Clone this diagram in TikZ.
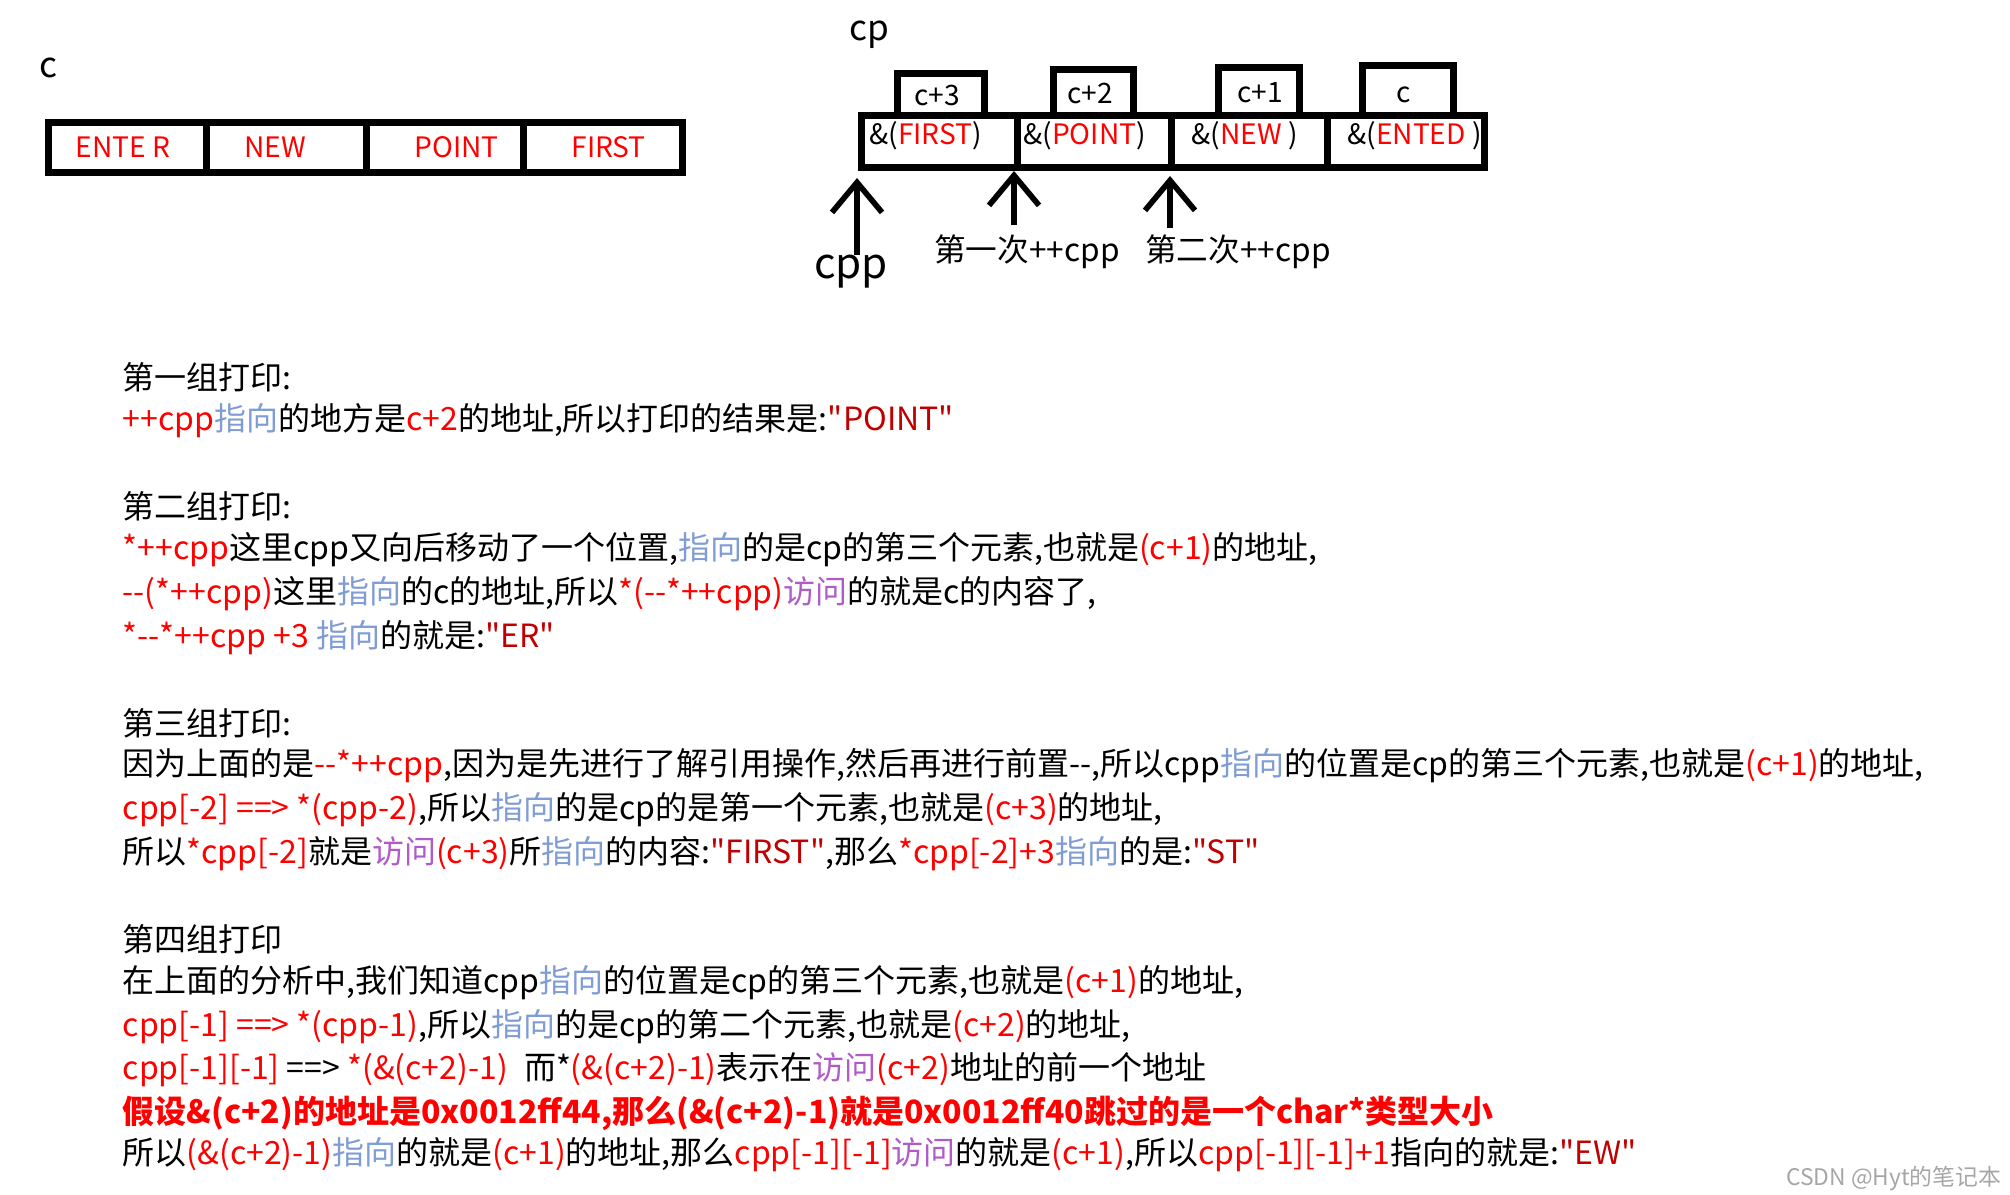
\documentclass[tikz,border=0pt]{standalone}
\usepackage{fontspec}
\setmainfont{Noto Sans CJK SC}[Ligatures=TeXOff]
\usetikzlibrary{arrows.meta}
\definecolor{zblue}{HTML}{7F9CD4}
\definecolor{zpur}{HTML}{B05CC8}
\definecolor{zdred}{HTML}{C00000}
\newcommand\cred[1]{\textcolor{red}{#1}}
\newcommand\cblu[1]{\textcolor{zblue}{#1}}
\newcommand\cpur[1]{\textcolor{zpur}{#1}}
\tikzset{
 cell/.style={draw,line width=2pt,minimum height=0.5cm,inner sep=0pt,font=\fontsize{8}{9}\selectfont},
 lab/.style={font=\fontsize{10}{12}\selectfont,inner sep=0pt},
 txt/.style={anchor=west,inner sep=0pt,font=\fontsize{9.1}{11}\selectfont},
 ptr/.style={line width=1.6pt,-{Straight Barb[length=3mm,width=5mm,line width=1.6pt]}}
}
\begin{document}
\begin{tikzpicture}[x=0.01cm,y=-0.01cm]
\useasboundingbox (0,0) rectangle (2010,1194);
% c array
\node[lab] (clab) at (48,68) {c};
\foreach \a/\b/\n in {45/203/e1,203/363/e2,363/520/e3,520/679/e4}{
  \node[cell,minimum width={(\b-\a)*0.01cm},minimum height=0.5cm,anchor=north west] (\n) at (\a,119) {};
}
\node[cell,draw=none,text=red,anchor=west] at (72,147) {ENTE R};
\node[cell,draw=none,text=red,anchor=west] at (241,147) {NEW};
\node[cell,draw=none,text=red,anchor=west] at (411,147) {POINT};
\node[cell,draw=none,text=red,anchor=west] at (568,147) {FIRST};
% cp
\node[lab] (cplab) at (869,35) {cp};
\node[cell,anchor=north west,minimum width=0.87cm,minimum height=0.42cm] (u1) at (894,70) {};
\node[cell,anchor=north west,minimum width=0.80cm,minimum height=0.46cm] (u2) at (1050,66) {};
\node[cell,anchor=north west,minimum width=0.81cm,minimum height=0.48cm] (u3) at (1215,64) {};
\node[cell,anchor=north west,minimum width=0.91cm,minimum height=0.50cm] (u4) at (1359,62) {};
\node[cell,draw=none] at (937,95) {c+3};
\node[cell,draw=none] at (1090,93) {c+2};
\node[cell,draw=none] at (1260,93) {c+1};
\node[cell,draw=none] at (1404,95) {c};
\node[cell,anchor=north west,minimum width=1.56cm,minimum height=0.52cm] (b1) at (858,112) {};
\node[cell,anchor=north west,minimum width=1.54cm,minimum height=0.52cm] (b2) at (1014,112) {};
\node[cell,anchor=north west,minimum width=1.56cm,minimum height=0.52cm] (b3) at (1168,112) {};
\node[cell,anchor=north west,minimum width=1.57cm,minimum height=0.52cm] (b4) at (1324,112) {};
\node[cell,draw=none,anchor=west] at (866,136) {\&(\cred{FIRST})};
\node[cell,draw=none,anchor=west] at (1020,136) {\&(\cred{POINT})};
\node[cell,draw=none,anchor=west] at (1188,136) {\&(\cred{NEW} )};
\node[cell,draw=none,anchor=west] at (1344,136) {\&(\cred{ENTED} )};
% pointers
\node[lab,font=\fontsize{12}{14}\selectfont] (cpp) at (851,272) {cpp};
\coordinate (p1) at (857,178);
\draw[ptr] (cpp.north -| p1) -- (p1);
\node[lab,font=\fontsize{9}{11}\selectfont] (f1) at (1027,252) {第一次++cpp};
\coordinate (p2) at (1014,171);
\draw[ptr] (1014,225) -- (p2);
\node[lab,font=\fontsize{9}{11}\selectfont] (f2) at (1238,252) {第二次++cpp};
\coordinate (p3) at (1170,176);
\draw[ptr] (1170,228) -- (p3);
% text
\node[txt] (t1) at (122,377) {第一组打印:};
\node[txt] (t2) at (122,421) {\cred{++cpp}\cblu{指向}的地方是\cred{c+2}的地址,所以打印的结果是:\textcolor{zdred}{"POINT"}};
\node[txt] (t3) at (122,506) {第二组打印:};
\node[txt] (t4) at (122,550) {\cred{*++cpp}这里cpp又向后移动了一个位置,\cblu{指向}的是cp的第三个元素,也就是\cred{(c+1)}的地址,};
\node[txt] (t5) at (122,594) {\cred{--(*++cpp)}这里\cblu{指向}的c的地址,所以\cred{*(--*++cpp)}\cpur{访问}的就是c的内容了,};
\node[txt] (t6) at (122,638) {\cred{*--*++cpp +3} \cblu{指向}的就是:\textcolor{zdred}{"ER"}};
\node[txt] (t7) at (122,723) {第三组打印:};
\node[txt] (t8) at (122,766) {因为上面的是\cred{--*++cpp},因为是先进行了解引用操作,然后再进行前置--,所以cpp\cblu{指向}的位置是cp的第三个元素,也就是\cred{(c+1)}的地址,};
\node[txt] (t9) at (122,810) {\cred{cpp[-2] ==> *(cpp-2)},所以\cblu{指向}的是cp的是第一个元素,也就是\cred{(c+3)}的地址,};
\node[txt] (t10) at (122,854) {所以\cred{*cpp[-2]}就是\cpur{访问}\cred{(c+3)}所\cblu{指向}的内容:\textcolor{zdred}{"FIRST"},那么\cred{*cpp[-2]+3}\cblu{指向}的是:\textcolor{zdred}{"ST"}};
\node[txt] (t11) at (122,939) {第四组打印};
\node[txt] (t12) at (122,983) {在上面的分析中,我们知道cpp\cblu{指向}的位置是cp的第三个元素,也就是\cred{(c+1)}的地址,};
\node[txt] (t13) at (122,1027) {\cred{cpp[-1] ==> *(cpp-1)},所以\cblu{指向}的是cp的第二个元素,也就是\cred{(c+2)}的地址,};
\node[txt] (t14) at (122,1070) {\cred{cpp[-1][-1]} ==> \cred{*(\&(c+2)-1)}\enspace 而*\cred{(\&(c+2)-1)}表示在\cpur{访问}\cred{(c+2)}地址的前一个地址};
\node[txt,text=red,font=\fontsize{9.1}{11}\selectfont\bfseries] (t15) at (122,1113) {假设\&(c+2)的地址是0x0012ff44,那么(\&(c+2)-1)就是0x0012ff40跳过的是一个char*类型大小};
\node[txt] (t16) at (122,1155) {所以\cred{(\&(c+2)-1)}\cblu{指向}的就是\cred{(c+1)}的地址,那么\cred{cpp[-1][-1]}\cpur{访问}的就是\cred{(c+1)},所以\cred{cpp[-1][-1]+1}指向的就是:\textcolor{zdred}{"EW"}};
\node[inner sep=0pt,anchor=east,text=gray!70,font=\fontsize{6.5}{8}\selectfont] (wm) at (2002,1178) {CSDN @Hyt的笔记本};
\end{tikzpicture}
\end{document}
